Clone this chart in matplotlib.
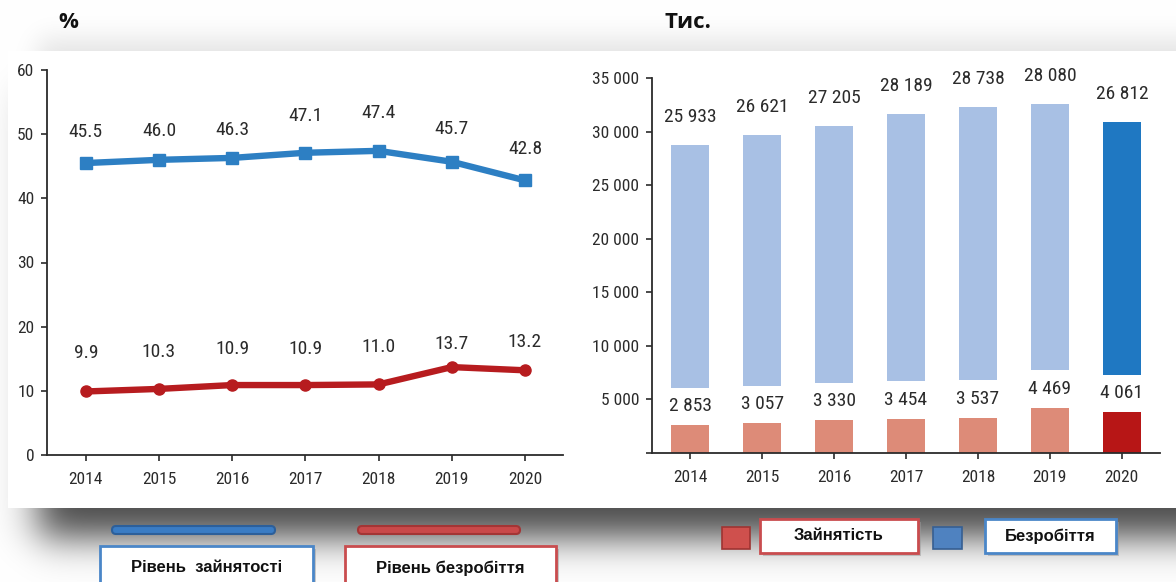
import numpy as np
import matplotlib
matplotlib.use("Agg")
import matplotlib.pyplot as plt
from matplotlib import font_manager
from matplotlib.patches import Rectangle, FancyBboxPatch
from matplotlib.ticker import FuncFormatter, MultipleLocator

# ---- data -------------------------------------------------------------
years = ["2014", "2015", "2016", "2017", "2018", "2019", "2020"]
employment_rate = [45.5, 46.0, 46.3, 47.1, 47.4, 45.7, 42.8]
unemployment_rate = [9.9, 10.3, 10.9, 10.9, 11.0, 13.7, 13.2]
employed_thousands = [25933, 26621, 27205, 28189, 28738, 28080, 26812]
unemployed_thousands = [2853, 3057, 3330, 3454, 3537, 4469, 4061]

legend_left = ["Рівень  зайнятості", "Рівень безробіття"]
legend_right = ["Зайнятість", "Безробіття"]
unit_left = "%"
unit_right = "Тис."

# ---- fonts ------------------------------------------------------------
def pick_font(names):
    for n in names:
        try:
            font_manager.findfont(font_manager.FontProperties(family=n),
                                  fallback_to_default=False)
            return n
        except Exception:
            continue
    return "DejaVu Sans"

NARROW = pick_font(["Liberation Sans Narrow", "Arial Narrow", "Roboto Condensed",
                    "DejaVu Sans Condensed", "Liberation Sans"])
SANS = pick_font(["Liberation Sans", "Arial", "DejaVu Sans"])
TITLE = pick_font(["Open Sans", "Noto Sans", "DejaVu Sans"])

W, H = 1176, 582
fig = plt.figure(figsize=(W / 100, H / 100), dpi=100)
fig.patch.set_facecolor("white")

# ---- background panel with soft drop shadow ---------------------------
def gauss_matrix(n, sigma):
    idx = np.arange(n)
    g = np.exp(-0.5 * ((idx[:, None] - idx[None, :]) / sigma) ** 2)
    return g / g.sum(axis=1, keepdims=True)

px0, px1, py0, py1 = 8, W + 40, 51, 508
yy, xx = np.mgrid[0:H, 0:W]

def rect_mask(x0, x1, y0, y1):
    return ((xx >= x0) & (xx < x1) & (yy >= y0) & (yy < y1)).astype(float)

Gy = gauss_matrix(H, 18)
Gx = gauss_matrix(W, 18)
low = Gy @ rect_mask(px0 + 30, px1, py0 + 40, py1 + 30) @ Gx.T
Gy2 = gauss_matrix(H, 12)
Gx2 = gauss_matrix(W, 12)
top = Gy2 @ rect_mask(px0 + 30, px1, py0 - 14, py0 + 40) @ Gx2.T
shade = 1.0 - 0.70 * low - 0.09 * top
shade[rect_mask(px0, px1, py0, py1) > 0] = 1.0
shade = np.clip(shade, 0, 1)

bg = fig.add_axes([0, 0, 1, 1])
bg.imshow(np.dstack([shade] * 3), extent=(0, W, H, 0), interpolation="bilinear",
          aspect="auto", zorder=0)
bg.set_xlim(0, W)
bg.set_ylim(H, 0)
bg.axis("off")

INK = "#2b2b2b"
VAL_FS = 14
TICK_FS = 12.5

# ---- left: rates ------------------------------------------------------
axL = fig.add_axes([47 / W, 1 - 455 / H, 516 / W, 385 / H])
axL.patch.set_alpha(0)
x = np.arange(len(years))
blue_line = "#2d7fc3"
red_line = "#b71c1f"
axL.plot(x, employment_rate, color=blue_line, lw=4.6, marker="s", ms=8,
         solid_joinstyle="round", zorder=3)
axL.plot(x, unemployment_rate, color=red_line, lw=4.6, marker="o", ms=8,
         solid_joinstyle="round", zorder=3)

off_blue = [31, 29, 28, 37, 38, 33, 31]
off_red = [38, 37, 36, 36, 37, 23, 28]
for i in x:
    axL.annotate(f"{employment_rate[i]:.1f}", (i, employment_rate[i]),
                 xytext=(0, off_blue[i]), textcoords="offset pixels",
                 ha="center", va="center", fontsize=VAL_FS, family=NARROW, color=INK)
    axL.annotate(f"{unemployment_rate[i]:.1f}", (i, unemployment_rate[i]),
                 xytext=(0, off_red[i]), textcoords="offset pixels",
                 ha="center", va="center", fontsize=VAL_FS, family=NARROW, color=INK)

axL.set_xlim(-0.53, 6.52)
axL.set_ylim(0, 60)
axL.yaxis.set_major_locator(MultipleLocator(10))
axL.set_xticks(x)
axL.set_xticklabels(years)

# ---- right: headcount -------------------------------------------------
axR = fig.add_axes([652 / W, 1 - 453 / H, 508 / W, 375 / H])
axR.patch.set_alpha(0)
pink = ["#dd8b78"] * 6 + ["#b71616"]
light = ["#a8c0e4"] * 6 + ["#1f78c2"]
axR.bar(x, unemployed_thousands, width=0.53, color=pink, zorder=2)
axR.bar(x, employed_thousands, bottom=unemployed_thousands, width=0.53,
        color=light, zorder=2)

def spaced(v):
    return f"{v:,.0f}".replace(",", " ")

for i in x:
    total = unemployed_thousands[i] + employed_thousands[i]
    axR.annotate(spaced(employed_thousands[i]), (i, total), xytext=(0, 28),
                 textcoords="offset pixels", ha="center", va="center",
                 fontsize=VAL_FS, family=NARROW, color=INK, zorder=5)
    axR.annotate(spaced(unemployed_thousands[i]), (i, unemployed_thousands[i]),
                 xytext=(0, 16), textcoords="offset pixels", ha="center",
                 va="center", fontsize=VAL_FS, family=NARROW, color=INK, zorder=5,
                 bbox=dict(boxstyle="square,pad=0.5", fc="white", ec="none"))

axR.set_xlim(-0.53, 6.53)
axR.set_ylim(0, 35000)
axR.yaxis.set_major_locator(MultipleLocator(5000))
axR.yaxis.set_major_formatter(FuncFormatter(lambda v, p: "" if v == 0 else spaced(v)))
axR.set_xticks(x)
axR.set_xticklabels(years)

for ax in (axL, axR):
    for s in ("top", "right"):
        ax.spines[s].set_visible(False)
    for s in ("left", "bottom"):
        ax.spines[s].set_color(INK)
        ax.spines[s].set_linewidth(1.3)
    ax.tick_params(axis="both", direction="out", length=4, width=1.2,
                   color=INK, labelcolor=INK, labelsize=TICK_FS)
    for lab in ax.get_xticklabels() + ax.get_yticklabels():
        lab.set_family(NARROW)
    ax.tick_params(axis="x", pad=8)
    ax.tick_params(axis="y", pad=5)

# ---- unit captions ----------------------------------------------------
bg.text(68, 23, unit_left, ha="center", va="center", fontsize=16,
        fontweight="bold", family=TITLE, color="#111111")
bg.text(688, 23, unit_right, ha="center", va="center", fontsize=16,
        fontweight="bold", family=TITLE, color="#111111")

# ---- legends ----------------------------------------------------------
def pill(x0, x1, yc, color, edge):
    bg.add_patch(FancyBboxPatch((x0, yc - 4), x1 - x0, 8,
                                boxstyle="round,pad=0,rounding_size=4",
                                fc=color, ec=edge, lw=1.5, zorder=3))

def label_box(x0, x1, y0, y1, edge, text):
    bg.add_patch(Rectangle((x0 + 3, y0 + 3), x1 - x0, y1 - y0, fc="#9a9a9a",
                           ec="none", alpha=0.5, zorder=3))
    bg.add_patch(Rectangle((x0, y0), x1 - x0, y1 - y0, fc="white", ec=edge,
                           lw=2, zorder=4))
    bg.text((x0 + x1) / 2, (y0 + y1) / 2, text, ha="center", va="center",
            fontsize=12, fontweight="bold", family=SANS, color="#111111",
            zorder=5)

pill(112, 275, 530, "#3a7cc4", "#2c5f9a")
pill(358, 520, 530, "#c9494a", "#a33535")
label_box(100, 313, 546, 590, "#4a86c8", legend_left[0])
label_box(345, 556, 546, 590, "#c94c4e", legend_left[1])

bg.add_patch(Rectangle((722, 527), 28, 22, fc="#cf504d", ec="#9e3432", lw=1.2, zorder=4))
bg.add_patch(Rectangle((933, 527), 29, 22, fc="#4f82c0", ec="#365f92", lw=1.2, zorder=4))
label_box(760, 918, 519, 553, "#c94c4e", legend_right[0])
label_box(985, 1116, 519, 553, "#4a86c8", legend_right[1])

fig.savefig("out.png", dpi=100, facecolor="white")
